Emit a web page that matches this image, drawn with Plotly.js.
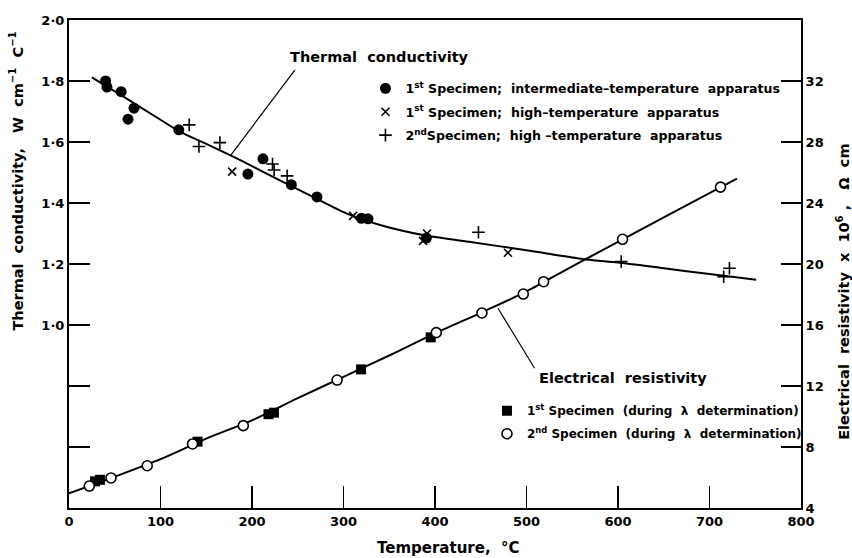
<!DOCTYPE html>
<html>
<head>
<meta charset="utf-8">
<script src="https://cdn.plot.ly/plotly-3.0.1.min.js"></script>
<style>html,body{margin:0;padding:0;background:#fff}#chart{width:852px;height:558px}</style>
</head>
<body>
<div id="chart"></div>
<script>
// ---- Thermal conductivity (W cm^-1 C^-1), left axis ----
const tcCurveT = [25, 60, 100, 121, 150, 176, 200, 230, 260, 303, 340, 387, 437, 500, 565, 600, 650, 700, 751];
const tcCurveK = [1.812, 1.748, 1.673, 1.634, 1.594, 1.557, 1.521, 1.475, 1.43, 1.366, 1.328, 1.295, 1.273, 1.245, 1.215, 1.205, 1.186, 1.167, 1.148];

const spec1IntT = [40, 41.5, 57, 64.5, 71, 120, 195.5, 212, 243, 271, 319.6, 326.8, 390.6];
const spec1IntK = [1.80, 1.78, 1.765, 1.675, 1.711, 1.64, 1.495, 1.545, 1.46, 1.42, 1.35, 1.348, 1.285];

const spec1HighT = [178.3, 310.5, 386.9, 391.3, 479.7];
const spec1HighK = [1.503, 1.358, 1.276, 1.30, 1.237];

const spec2HighT = [131.4, 142, 164.9, 222.4, 224.2, 238.4, 447.5, 603.5, 715.5, 721.8];
const spec2HighK = [1.656, 1.585, 1.598, 1.528, 1.508, 1.489, 1.304, 1.208, 1.158, 1.186];

// ---- Electrical resistivity (x10^6 ohm cm), right axis ----
const erCurveT = [0, 25, 50, 100, 150, 200, 250, 300, 350, 400, 450, 500, 550, 600, 650, 700, 730];
const erCurveR = [4.96, 5.5, 6.05, 7.2, 8.55, 9.75, 11.2, 12.6, 14.0, 15.45, 16.8, 18.2, 19.85, 21.45, 23.05, 24.65, 25.6];

const er1T = [28.4, 33.8, 140.5, 218, 224, 319.2, 395.3];
const er1R = [5.75, 5.85, 8.35, 10.15, 10.25, 13.09, 15.19];

const er2T = [22.2, 45.9, 85.5, 135, 190.5, 293, 401.4, 451.3, 496.5, 518.7, 605, 712];
const er2R = [5.44, 5.97, 6.77, 8.20, 9.40, 12.39, 15.5, 16.79, 18.03, 18.84, 21.62, 25.04];

// ---- Axis ticks ----
const xTicks = [0, 100, 200, 300, 400, 500, 600, 700, 800];
const leftTickVals = [0.6, 0.8, 1.0, 1.2, 1.4, 1.6, 1.8, 2.0];
const leftTickText = ['', '', '1·0', '1·2', '1·4', '1·6', '1·8', '2·0'];
const rightTickVals = [4, 8, 12, 16, 20, 24, 28, 32];
const rightTickText = ['4', '8', '12', '16', '20', '24', '28', '32'];

const FONT = 'DejaVu Sans, sans-serif';
const K = '#000';

const traces = [
  {x: tcCurveT, y: tcCurveK, mode: 'lines', line: {color: K, width: 2, shape: 'spline', smoothing: 0.8}, showlegend: false, hoverinfo: 'skip'},
  {x: erCurveT, y: erCurveR, yaxis: 'y2', mode: 'lines', line: {color: K, width: 2, shape: 'spline', smoothing: 0.8}, showlegend: false, hoverinfo: 'skip'},
  {x: spec1IntT, y: spec1IntK, mode: 'markers', name: '1<sup>st</sup> Specimen;  intermediate–temperature  apparatus',
   marker: {symbol: 'circle', size: 11, color: K}, legend: 'legend', legendgroup: 'a'},
  {x: spec1HighT, y: spec1HighK, mode: 'markers', name: '1<sup>st</sup> Specimen;  high–temperature  apparatus',
   marker: {symbol: 'x-thin-open', size: 8, color: K, line: {color: K, width: 1.6}}, legend: 'legend', legendgroup: 'b'},
  {x: spec2HighT, y: spec2HighK, mode: 'markers', name: '2<sup>nd</sup>Specimen;  high –temperature  apparatus',
   marker: {symbol: 'cross-thin-open', size: 9, color: K, line: {color: K, width: 1.6}}, legend: 'legend', legendgroup: 'c'},
  {x: er1T, y: er1R, yaxis: 'y2', mode: 'markers', name: '1<sup>st</sup> Specimen  (during  λ  determination)',
   marker: {symbol: 'square', size: 10, color: K}, legend: 'legend2', legendgroup: 'd'},
  {x: er2T, y: er2R, yaxis: 'y2', mode: 'markers', name: '2<sup>nd</sup> Specimen  (during  λ  determination)',
   marker: {symbol: 'circle', size: 10, color: '#fff', line: {color: K, width: 1.6}}, legend: 'legend2', legendgroup: 'e'}
];

const tickFont = {family: FONT, size: 13, color: K, weight: 'bold'};
const legFont = {family: FONT, size: 12.6, color: K, weight: 'bold'};
const legFont2 = {family: FONT, size: 12, color: K, weight: 'bold'};

const layout = {
  width: 852, height: 558,
  margin: {l: 69, r: 51, t: 20, b: 50},
  paper_bgcolor: '#fff', plot_bgcolor: '#fff',
  font: {family: FONT, color: K},
  xaxis: {range: [0, 800], tickvals: xTicks, ticks: 'inside', ticklen: 22, tickwidth: 1.5, tickcolor: K,
          showline: true, linewidth: 2, linecolor: K, mirror: true, showgrid: false, zeroline: false,
          tickfont: tickFont},
  yaxis: {range: [0.4, 2.0], tickvals: leftTickVals, ticktext: leftTickText, ticks: 'inside', ticklen: 21,
          tickwidth: 1.5, tickcolor: K, showline: true, linewidth: 2, linecolor: K, showgrid: false,
          zeroline: false, tickfont: tickFont},
  yaxis2: {range: [4, 36], overlaying: 'y', side: 'right', tickvals: rightTickVals, ticktext: rightTickText,
           ticks: 'inside', ticklen: 20, tickwidth: 1.5, tickcolor: K, showline: true, linewidth: 2,
           linecolor: K, showgrid: false, zeroline: false, tickfont: tickFont},
  legend: {x: 0.405, y: 0.89, xanchor: 'left', yanchor: 'top', bgcolor: 'rgba(0,0,0,0)', font: legFont,
           tracegroupgap: 4, itemwidth: 30, borderwidth: 0},
  legend2: {x: 0.571, y: 0.229, xanchor: 'left', yanchor: 'top', bgcolor: 'rgba(0,0,0,0)', font: legFont2,
            tracegroupgap: 4, itemwidth: 30, borderwidth: 0},
  shapes: [
    {type: 'line', xref: 'x', yref: 'y', x0: 246.8, y0: 1.836, x1: 176.9, y1: 1.557, line: {color: K, width: 1.2}},
    {type: 'line', xref: 'x', yref: 'y2', x0: 468.8, y0: 17.1, x1: 508.8, y1: 13.16, line: {color: K, width: 1.2}}
  ],
  annotations: [
    {text: 'Thermal  conductivity', xref: 'paper', yref: 'paper', x: 0.4235, y: 0.924, showarrow: false,
     font: {family: FONT, size: 14.5, color: K, weight: 'bold'}, xanchor: 'center', yanchor: 'middle'},
    {text: 'Electrical  resistivity', xref: 'paper', yref: 'paper', x: 0.757, y: 0.266, showarrow: false,
     font: {family: FONT, size: 14.5, color: K, weight: 'bold'}, xanchor: 'center', yanchor: 'middle'},
    {text: 'Temperature,  °C', xref: 'paper', yref: 'paper', x: 0.518, y: -0.082, showarrow: false,
     font: {family: FONT, size: 15, color: K, weight: 'bold'}, xanchor: 'center', yanchor: 'middle'},
    {text: 'Thermal  conductivity,   W  cm<sup>−1</sup>  C<sup>−1</sup>', xref: 'paper', yref: 'paper',
     x: -0.0724, y: 0.669, textangle: -90, showarrow: false,
     font: {family: FONT, size: 14.5, color: K, weight: 'bold'}, xanchor: 'center', yanchor: 'middle'},
    {text: 'Electrical  resistivity  x  10<sup>6</sup> ,   Ω  cm', xref: 'paper', yref: 'paper',
     x: 1.0574, y: 0.443, textangle: -90, showarrow: false,
     font: {family: FONT, size: 14.5, color: K, weight: 'bold'}, xanchor: 'center', yanchor: 'middle'}
  ]
};

Plotly.newPlot('chart', traces, layout, {displayModeBar: false, staticPlot: true});
</script>
</body>
</html>
